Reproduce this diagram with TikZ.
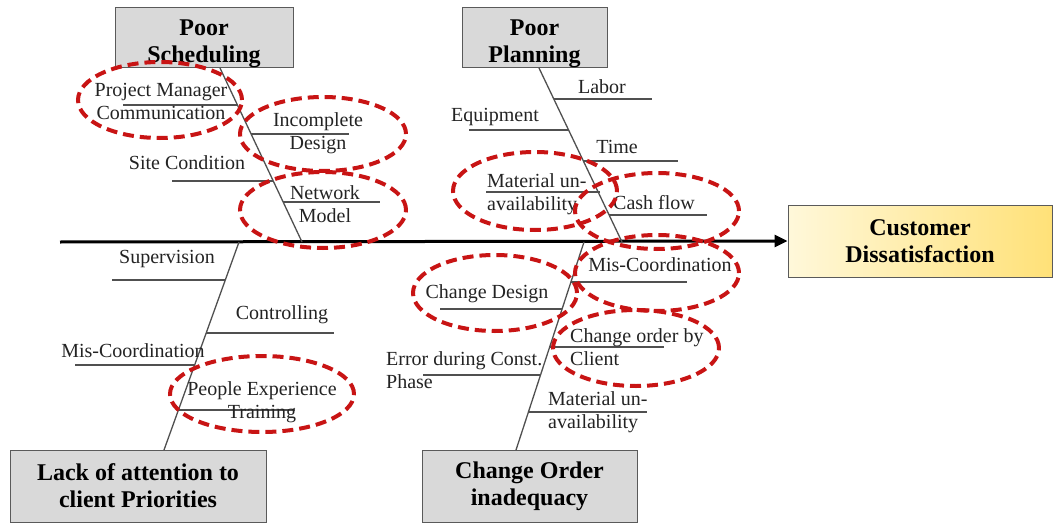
\documentclass[tikz,border=0pt]{standalone}
\usepackage{fontspec}
\setmainfont{Liberation Serif}
\usetikzlibrary{arrows.meta}
\definecolor{dashred}{RGB}{200,20,20}
\definecolor{boxgray}{RGB}{217,217,217}
\definecolor{boxedge}{RGB}{90,90,90}
\definecolor{linegray}{RGB}{80,80,80}
\definecolor{txt}{RGB}{35,35,35}
\definecolor{yellowA}{RGB}{255,248,218}
\definecolor{yellowB}{RGB}{255,225,120}
\begin{document}
\begin{tikzpicture}[x=1pt,y=-1pt,
  catbox/.style={draw=boxedge, fill=boxgray, line width=1pt, inner sep=0pt},
  cattext/.style={font=\fontsize{24}{27}\selectfont\bfseries, align=center, inner sep=0pt, text=black},
  lbl/.style={font=\fontsize{20}{23}\selectfont, align=center, inner sep=0pt, text=txt},
  lbll/.style={lbl, align=left, anchor=west},
  spine/.style={draw=linegray, line width=1.3pt},
  branch/.style={draw=linegray, line width=1.4pt},
  ring/.style={draw=dashred, line width=4pt, dash pattern=on 11pt off 6pt},
  mainline/.style={draw=black, line width=3pt, -{Triangle[length=13pt,width=12pt]}}
]
\useasboundingbox (0,0) rectangle (1054,524);

% ---- boxes
\node[catbox, minimum width=178pt, minimum height=60pt] (sched) at (204,38) {};
\node[cattext] (schedt) at (204,43.5) {Poor\\Scheduling};
\node[catbox, minimum width=145pt, minimum height=60pt] (plan) at (534.5,38) {};
\node[cattext] (plant) at (534.5,43.5) {Poor\\Planning};
\node[catbox, cattext, minimum width=256pt, minimum height=72pt] (lack) at (138,486) {Lack of attention to\\client Priorities};
\node[catbox, cattext, minimum width=215pt, minimum height=72pt] (chg) at (529.5,486) {Change Order\\inadequacy};
\node[draw=boxedge, line width=1pt, left color=yellowA, right color=yellowB, cattext, minimum width=264pt, minimum height=72pt] (cust) at (920,241) {Customer\\Dissatisfaction};

% ---- main line
\coordinate (tail) at (60,242);
\draw[mainline] (tail) -- (cust.west);

% ---- spines
\coordinate (s1a) at (220,68);  \coordinate (s1b) at (302,242);
\coordinate (s2a) at (539,68);  \coordinate (s2b) at (622,242);
\coordinate (s3a) at (164,450); \coordinate (s3b) at (239,242);
\coordinate (s4a) at (516,450); \coordinate (s4b) at (584,242);
\draw[spine] (s1a) -- (s1b);
\draw[spine] (s2a) -- (s2b);
\draw[spine] (s3a) -- (s3b);
\draw[spine] (s4a) -- (s4b);

% ---- Poor Scheduling branches
\coordinate (a1s) at (237,105); \coordinate (a1e) at (123,105);
\coordinate (a2s) at (251,134); \coordinate (a2e) at (349,134);
\coordinate (a3s) at (273,181); \coordinate (a3e) at (172,181);
\coordinate (a4s) at (283,202); \coordinate (a4e) at (380,202);
\draw[branch] (a1s) -- (a1e);
\draw[branch] (a2s) -- (a2e);
\draw[branch] (a3s) -- (a3e);
\draw[branch] (a4s) -- (a4e);
\node[lbl] (pm) at (161,101.5) {Project Manager\\Communication};
\node[lbl] (idn) at (318,133) {Incomplete\\Design};
\node[lbl] (sc) at (187,163) {Site Condition};
\node[lbl] (nm) at (325,204) {Network\\Model};

% ---- Poor Planning branches
\coordinate (b1s) at (554,99);  \coordinate (b1e) at (652,99);
\coordinate (b2s) at (569,130); \coordinate (b2e) at (469,130);
\coordinate (b3s) at (583,161); \coordinate (b3e) at (678,161);
\coordinate (b4s) at (600,192); \coordinate (b4e) at (486,192);
\coordinate (b5s) at (609,215); \coordinate (b5e) at (707,215);
\draw[branch] (b1s) -- (b1e);
\draw[branch] (b2s) -- (b2e);
\draw[branch] (b3s) -- (b3e);
\draw[branch] (b4s) -- (b4e);
\draw[branch] (b5s) -- (b5e);
\node[lbl] (labor) at (602,87) {Labor};
\node[lbl] (equip) at (495,117) {Equipment};
\node[lbl] (time) at (617,147) {Time};
\node[lbll] (mat1) at (487,194.5) {Material un-\\availability};
\node[lbl] (cash) at (654,203) {Cash flow};

% ---- Lack of attention branches
\coordinate (c1s) at (225,280); \coordinate (c1e) at (112,280);
\coordinate (c2s) at (206,333); \coordinate (c2e) at (334,333);
\coordinate (c3s) at (195,365); \coordinate (c3e) at (75,365);
\coordinate (c4s) at (178,410); \coordinate (c4e) at (295,410);
\draw[branch] (c1s) -- (c1e);
\draw[branch] (c2s) -- (c2e);
\draw[branch] (c3s) -- (c3e);
\draw[branch] (c4s) -- (c4e);
\node[lbl] (sup) at (167,259) {Supervision};
\node[lbl] (ctrl) at (282,315) {Controlling};
\node[lbl] (misc1) at (133,351) {Mis-Coordination};
\node[lbl] (pet) at (262,402) {People Experience\\Training};

% ---- Change Order branches
\coordinate (d1s) at (571,282); \coordinate (d1e) at (687,282);
\coordinate (d2s) at (562,309); \coordinate (d2e) at (440,309);
\coordinate (d3s) at (550,347); \coordinate (d3e) at (664,347);
\coordinate (d4s) at (540,375); \coordinate (d4e) at (423,375);
\coordinate (d5s) at (528,412); \coordinate (d5e) at (647,412);
\draw[branch] (d1s) -- (d1e);
\draw[branch] (d2s) -- (d2e);
\draw[branch] (d3s) -- (d3e);
\draw[branch] (d4s) -- (d4e);
\draw[branch] (d5s) -- (d5e);
\node[lbl] (misc2) at (660,265) {Mis-Coordination};
\node[lbl] (cdes) at (487,294) {Change Design};
\node[lbll] (cobc) at (570,347) {Change order by\\Client};
\node[lbll] (err) at (386,370) {Error during Const.\\Phase};
\node[lbll] (mat2) at (548,412) {Material un-\\availability};

% ---- red dashed ellipses
\draw[ring] (160,100) ellipse [x radius=82pt, y radius=38pt];
\draw[ring] (323,134) ellipse [x radius=83pt, y radius=37pt];
\draw[ring] (323,210) ellipse [x radius=83pt, y radius=38pt];
\draw[ring] (535,191) ellipse [x radius=82pt, y radius=39pt];
\draw[ring] (657,211) ellipse [x radius=82pt, y radius=38pt];
\draw[ring] (262,394) ellipse [x radius=92pt, y radius=38pt];
\draw[ring] (657,273) ellipse [x radius=82pt, y radius=38pt];
\draw[ring] (495,293) ellipse [x radius=82pt, y radius=38pt];
\draw[ring] (636,348) ellipse [x radius=83pt, y radius=38pt];
\end{tikzpicture}
\end{document}
